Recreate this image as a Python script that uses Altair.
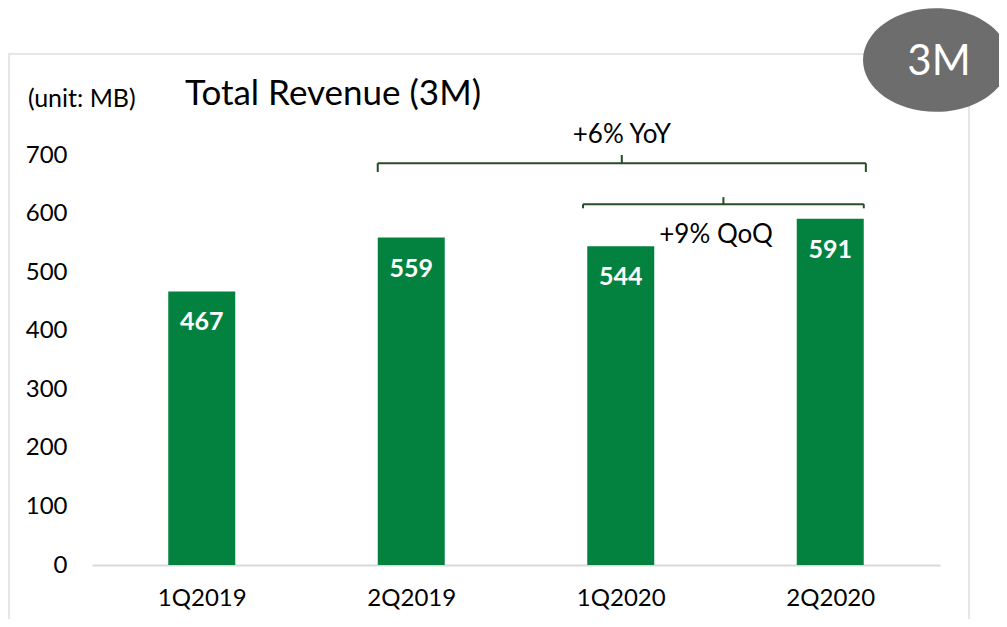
import json
import altair as alt
import pandas as pd

# ---- data ----
quarters = ["1Q2019", "2Q2019", "1Q2020", "2Q2020"]
revenue = [467, 559, 544, 591]
y_ticks = [0, 100, 200, 300, 400, 500, 600, 700]

bracket_labels = ["+6% YoY", "+9% QoQ"]
bracket_start = [1.34, 2.32]      # in category units
bracket_end = [3.67, 3.66]
bracket_level = [686, 616]        # y value of the bracket line
bracket_end_drop = [15, 7]
bracket_mid_rise = [14, 12]
label_x = [2.505, 2.955]
label_y = [734, 563]

title_text = "Total Revenue (3M)"
unit_text = "(unit: MB)"
badge_text = "3M"

W, H = 848, 410
FONT = "Lato"
GREEN = "#03823F"

df = pd.DataFrame({
    "quarter": quarters,
    "revenue": revenue,
    "pos": [i + 0.5 for i in range(len(quarters))],
})

segs = []
for x0, x1, yl, d, m in zip(bracket_start, bracket_end, bracket_level, bracket_end_drop, bracket_mid_rise):
    xm = (x0 + x1) / 2
    segs.append(dict(x=x0, x2=x1, y=yl, y2=yl))
    segs.append(dict(x=x0, x2=x0, y=yl, y2=yl - d))
    segs.append(dict(x=x1, x2=x1, y=yl, y2=yl - d))
    segs.append(dict(x=xm, x2=xm, y=yl, y2=yl + m))
seg_df = pd.DataFrame(segs)
lab_df = pd.DataFrame({"t": bracket_labels, "x": label_x, "y": label_y})

xscale = alt.Scale(domain=[0, len(quarters)], nice=False, zero=False)
yscale = alt.Scale(domain=[0, 700], nice=False)
label_expr = f"{json.dumps(quarters)}[floor(datum.value)]"

one = pd.DataFrame({"a": [0]})

box = alt.Chart(one).mark_rect(fillOpacity=0, stroke="#e6e6e6", strokeWidth=2).encode(
    x=alt.value(-83), x2=alt.value(877), y=alt.value(-101), y2=alt.value(500)
)

bars = alt.Chart(df).mark_bar(size=67, color=GREEN, orient="vertical").encode(
    x=alt.X("pos:Q", scale=xscale,
            axis=alt.Axis(values=[i + 0.5 for i in range(len(quarters))], labelExpr=label_expr,
                          title=None, ticks=False, grid=False, domainColor="#d9d9d9",
                          domainWidth=2, labelFontSize=24, labelFont=FONT, labelColor="black",
                          labelPadding=21)),
    y=alt.Y("revenue:Q", scale=yscale,
            axis=alt.Axis(values=y_ticks, title=None, ticks=False, grid=False, domain=False,
                          labelFontSize=24, labelFont=FONT, labelColor="black", labelPadding=25)),
    y2=alt.datum(0),
)

vals = alt.Chart(df).mark_text(color="white", fontWeight="bold", fontSize=25, font=FONT,
                               baseline="middle", dy=31).encode(
    x="pos:Q", y="revenue:Q", text="revenue:Q"
)

rules = alt.Chart(seg_df).mark_rule(color="#264d26", strokeWidth=2).encode(
    x="x:Q", x2="x2:Q", y="y:Q", y2="y2:Q"
)

blabels = alt.Chart(lab_df).mark_text(fontSize=26, font=FONT, color="black", baseline="middle").encode(
    x="x:Q", y="y:Q", text="t:N"
)

title = alt.Chart(pd.DataFrame({"t": [title_text]})).mark_text(
    align="left", baseline="alphabetic", fontSize=35, font=FONT, color="black"
).encode(x=alt.value(93), y=alt.value(-50), text="t:N")

unit = alt.Chart(pd.DataFrame({"t": [unit_text]})).mark_text(
    align="left", baseline="alphabetic", fontSize=25, font=FONT, color="black"
).encode(x=alt.value(-64), y=alt.value(-48), text="t:N")

ellipse_path = "M-1,0 A1,0.71,0,1,1,1,0 A1,0.71,0,1,1,-1,0 Z"
badge = alt.Chart(one).mark_point(shape=ellipse_path, size=146 * 146, filled=True,
                                  color="#6d6d6d", opacity=1, strokeWidth=0).encode(
    x=alt.value(844), y=alt.value(-95)
)
badge_t = alt.Chart(pd.DataFrame({"t": [badge_text]})).mark_text(
    color="white", fontSize=42, font=FONT, align="center", baseline="middle"
).encode(x=alt.value(847), y=alt.value(-93), text="t:N")

chart = alt.layer(box, bars, vals, rules, blabels, title, unit, badge, badge_t).properties(
    width=W, height=H,
    autosize=alt.AutoSizeParams(type="none"),
    padding={"left": 84, "top": 147, "right": 59, "bottom": 54},
    background="white",
).configure_view(stroke=None)

chart.save("out.html", embed_options={"renderer": "svg", "actions": False})
